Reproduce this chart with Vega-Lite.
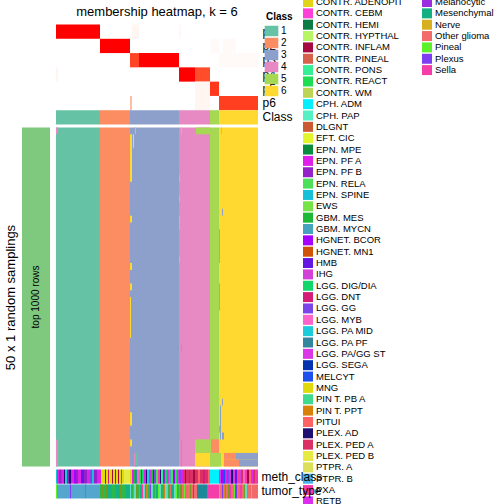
{
"$schema":"https://vega.github.io/schema/vega-lite/v6.json",
"padding":{"left":4,"top":-3.5,"right":0,"bottom":0},
"bounds":"flush",
"columns":2,
"spacing":{"row":3,"column":6},
"config":{"view":{"stroke":null},"font":"Liberation Sans","legend":{"symbolLimit":100}},
"resolve":{"scale":{"color":"independent"},"legend":{"color":"independent"}},
"concat":[
{"width":28,"height":100,"data":{"values":[]},"mark":"rect"},
{"width":202,"height":100,
 "title":{"text":"membership heatmap, k = 6","fontSize":13,"fontWeight":"normal","offset":6,"anchor":"middle","color":"#000"},
 "encoding":{
  "x":{"field":"c0","type":"quantitative","scale":{"domain":[0,202],"nice":false,"zero":false},"axis":null},
  "x2":{"field":"c1"},
  "y":{"field":"row","type":"nominal","scale":{"domain":["p1","p2","p3","p4","p5","p6","Class"],"paddingInner":0,"paddingOuter":0},
       "axis":{"orient":"right","title":null,"ticks":false,"domain":false,"labelFontSize":12,"labelPadding":4,"labelColor":"#000"}}},
 "layer":[
  {"data":{"values":[
   {"row":"p1","c0":0,"c1":44,"p":1},{"row":"p1","c0":76,"c1":83,"p":0.05},{"row":"p1","c0":123,"c1":125,"p":0.04},
   {"row":"p2","c0":44,"c1":74,"p":1},{"row":"p2","c0":155,"c1":163,"p":0.03},{"row":"p2","c0":167,"c1":180,"p":0.03},
   {"row":"p3","c0":74,"c1":83,"p":0.88},{"row":"p3","c0":83,"c1":123,"p":1},{"row":"p3","c0":163,"c1":202,"p":0.03},
   {"row":"p4","c0":0,"c1":2,"p":0.05},{"row":"p4","c0":123,"c1":139,"p":1},{"row":"p4","c0":139,"c1":154,"p":0.86},
   {"row":"p5","c0":139,"c1":154,"p":0.05},{"row":"p5","c0":154,"c1":163,"p":0.92},
   {"row":"p6","c0":74,"c1":76,"p":0.35},{"row":"p6","c0":139,"c1":154,"p":0.05},{"row":"p6","c0":163,"c1":202,"p":0.9}
  ]},
  "mark":"rect",
  "encoding":{"color":{"field":"p","type":"quantitative","scale":{"domain":[0,1],"range":["#ffffff","#ff0000"],"interpolate":"lab"},"legend":null}}},
  {"data":{"values":[
   {"row":"Class","c0":0,"c1":44,"class":"1"},{"row":"Class","c0":44,"c1":74,"class":"2"},{"row":"Class","c0":74,"c1":123,"class":"3"},
   {"row":"Class","c0":123,"c1":154,"class":"4"},{"row":"Class","c0":154,"c1":163,"class":"5"},{"row":"Class","c0":163,"c1":202,"class":"6"}
  ]},
  "mark":"rect",
  "encoding":{"color":{"field":"class","type":"nominal","scale":{"domain":["1","2","3","4","5","6"],"range":["#66C2A5","#FC8D62","#8DA0CB","#E78AC3","#A6D854","#FFD92F"]},"legend":null}}}
 ],
 "resolve":{"scale":{"color":"independent"}}
},
{"width":28,"height":339,
 "data":{"values":[{"slice":"top 1000 rows"}]},
 "encoding":{"y":{"field":"slice","type":"nominal","scale":{"paddingInner":0,"paddingOuter":0},
   "axis":{"title":"50 x 1 random samplings","labels":false,"ticks":false,"domain":false,"titleFontSize":13,"titleFontWeight":"normal","titlePadding":5,"titleColor":"#000"}}},
 "layer":[
  {"mark":{"type":"rect","color":"#7FC97F"},"encoding":{"x":{"datum":0,"type":"quantitative","scale":{"domain":[0,1],"nice":false,"zero":false},"axis":null},"x2":{"datum":1}}},
  {"mark":{"type":"text","angle":270,"fontSize":10,"color":"#000"},"encoding":{"x":{"datum":0.5,"type":"quantitative"},"text":{"field":"slice"}}}
 ]
},
{"width":202,"height":339,
 "data":{"values":[
  {"r0":0,"r1":50,"c0":0,"c1":44,"class":"1"},{"r0":0,"r1":50,"c0":44,"c1":74,"class":"2"},{"r0":0,"r1":50,"c0":74,"c1":123,"class":"3"},
  {"r0":0,"r1":50,"c0":123,"c1":154,"class":"4"},{"r0":0,"r1":50,"c0":154,"c1":163,"class":"5"},{"r0":0,"r1":50,"c0":163,"c1":202,"class":"6"},
  {"r0":0,"r1":1,"c0":0,"c1":2,"class":"4"},{"r0":0,"r1":1,"c0":79,"c1":80,"class":"5"},{"r0":0,"r1":1,"c0":125,"c1":126,"class":"5"},
  {"r0":0,"r1":1,"c0":140,"c1":154,"class":"5"},{"r0":0,"r1":1,"c0":165,"c1":166,"class":"5"},
  {"r0":1,"r1":3,"c0":77,"c1":78,"class":"6"},{"r0":1,"r1":8,"c0":74,"c1":76,"class":"6"},
  {"r0":7,"r1":8,"c0":123,"c1":124,"class":"5"},{"r0":10,"r1":11,"c0":123,"c1":124,"class":"5"},
  {"r0":12,"r1":13,"c0":166,"c1":167,"class":"3"},{"r0":13,"r1":14,"c0":74,"c1":76,"class":"6"},
  {"r0":13,"r1":15,"c0":123,"c1":124,"class":"5"},{"r0":15,"r1":20,"c0":163,"c1":164,"class":"2"},
  {"r0":19,"r1":20,"c0":123,"c1":124,"class":"5"},{"r0":20,"r1":21,"c0":74,"c1":76,"class":"6"},
  {"r0":23,"r1":24,"c0":74,"c1":76,"class":"6"},{"r0":23,"r1":27,"c0":163,"c1":164,"class":"2"},
  {"r0":25,"r1":31,"c0":74,"c1":75,"class":"6"},{"r0":32,"r1":33,"c0":125,"c1":126,"class":"3"},
  {"r0":40,"r1":41,"c0":166,"c1":167,"class":"3"},{"r0":41,"r1":46,"c0":164,"c1":165,"class":"3"},
  {"r0":42,"r1":44,"c0":74,"c1":76,"class":"6"},{"r0":44,"r1":45,"c0":163,"c1":164,"class":"2"},
  {"r0":45,"r1":46,"c0":123,"c1":124,"class":"1"},{"r0":45,"r1":46,"c0":166,"c1":168,"class":"3"},
  {"r0":46,"r1":48,"c0":139,"c1":155,"class":"5"},{"r0":46,"r1":48,"c0":155,"c1":163,"class":"2"},
  {"r0":46,"r1":47,"c0":74,"c1":76,"class":"6"},{"r0":46,"r1":50,"c0":0,"c1":2,"class":"4"},{"r0":46,"r1":50,"c0":125,"c1":126,"class":"3"},
  {"r0":48,"r1":50,"c0":139,"c1":154,"class":"6"},{"r0":48,"r1":50,"c0":154,"c1":165,"class":"5"},
  {"r0":48,"r1":50,"c0":78,"c1":79,"class":"4"},{"r0":48,"r1":50,"c0":79,"c1":82,"class":"1"},
  {"r0":48,"r1":49,"c0":168,"c1":180,"class":"2"},{"r0":48,"r1":49,"c0":180,"c1":202,"class":"3"},
  {"r0":49,"r1":50,"c0":168,"c1":183,"class":"2"},{"r0":49,"r1":50,"c0":183,"c1":202,"class":"3"}
 ]},
 "mark":"rect",
 "encoding":{
  "x":{"field":"c0","type":"quantitative","scale":{"domain":[0,202],"nice":false,"zero":false},"axis":null},
  "x2":{"field":"c1"},
  "y":{"field":"r0","type":"quantitative","scale":{"domain":[0,50],"reverse":true,"nice":false,"zero":false},"axis":null},
  "y2":{"field":"r1"},
  "color":{"field":"class","type":"nominal","scale":{"domain":["1","2","3","4","5","6"],"range":["#66C2A5","#FC8D62","#8DA0CB","#E78AC3","#A6D854","#FFD92F"]},
   "legend":{"title":"Class","orient":"none","legendX":210,"legendY":-115.5,"titleFontSize":10,"titleFontWeight":"bold","titlePadding":3.5,"titleColor":"#000",
    "labelFontSize":10,"labelColor":"#000","symbolType":"M-1.3,-1H1.3V1H-1.3Z","symbolSize":110,"symbolStrokeWidth":0,"symbolOpacity":1,"rowPadding":1,"labelOffset":4,"padding":0}}}
},
{"width":28,"height":29,"data":{"values":[]},"mark":"rect"},
{"width":202,"height":29,
 "encoding":{
  "x":{"field":"c0","type":"quantitative","scale":{"domain":[0,202],"nice":false,"zero":false},"axis":null},
  "x2":{"field":"c1"},
  "y":{"field":"row","type":"nominal","scale":{"domain":["meth_class","tumor_type"],"paddingInner":0.05,"paddingOuter":0},
       "axis":{"orient":"right","title":null,"ticks":false,"domain":false,"labelFontSize":12,"labelPadding":3,"labelColor":"#000"}}},
 "layer":[
  {"data":{"values":[
   {"row":"meth_class","c0":0,"c1":1,"meth_class":"EPN. SPINE"},{"row":"meth_class","c0":1,"c1":3,"meth_class":"EPN. PF A"},
   {"row":"meth_class","c0":3,"c1":5,"meth_class":"EPN. PF B"},{"row":"meth_class","c0":5,"c1":6,"meth_class":"LGG. GG"},
   {"row":"meth_class","c0":6,"c1":8,"meth_class":"EPN. PF A"},{"row":"meth_class","c0":8,"c1":9,"meth_class":"PLEX. AD"},
   {"row":"meth_class","c0":9,"c1":11,"meth_class":"LGG. PA MID"},{"row":"meth_class","c0":11,"c1":13,"meth_class":"EPN. PF B"},
   {"row":"meth_class","c0":13,"c1":15,"meth_class":"PLEX. AD"},{"row":"meth_class","c0":15,"c1":18,"meth_class":"EPN. PF A"},
   {"row":"meth_class","c0":18,"c1":20,"meth_class":"HGNET. BCOR"},{"row":"meth_class","c0":20,"c1":22,"meth_class":"EPN. PF B"},
   {"row":"meth_class","c0":22,"c1":25,"meth_class":"EPN. PF A"},{"row":"meth_class","c0":25,"c1":28,"meth_class":"HMB"},
   {"row":"meth_class","c0":28,"c1":31,"meth_class":"EPN. PF B"},{"row":"meth_class","c0":31,"c1":34,"meth_class":"EPN. PF A"},
   {"row":"meth_class","c0":34,"c1":36,"meth_class":"LGG. GG"},{"row":"meth_class","c0":36,"c1":38,"meth_class":"EPN. SPINE"},
   {"row":"meth_class","c0":38,"c1":41,"meth_class":"EPN. PF B"},{"row":"meth_class","c0":41,"c1":44,"meth_class":"EPN. PF A"},
   {"row":"meth_class","c0":44,"c1":45,"meth_class":"EPN. PF A"},{"row":"meth_class","c0":45,"c1":49,"meth_class":"MNG"},
   {"row":"meth_class","c0":49,"c1":50,"meth_class":"CONTR. INFLAM"},{"row":"meth_class","c0":50,"c1":52,"meth_class":"MNG"},
   {"row":"meth_class","c0":52,"c1":53,"meth_class":"LGG. DNT"},{"row":"meth_class","c0":53,"c1":56,"meth_class":"MNG"},
   {"row":"meth_class","c0":56,"c1":57,"meth_class":"CONTR. INFLAM"},{"row":"meth_class","c0":57,"c1":59,"meth_class":"MNG"},
   {"row":"meth_class","c0":59,"c1":60,"meth_class":"CONTR. INFLAM"},{"row":"meth_class","c0":60,"c1":62,"meth_class":"MNG"},
   {"row":"meth_class","c0":62,"c1":63,"meth_class":"CONTR. INFLAM"},{"row":"meth_class","c0":63,"c1":65,"meth_class":"MNG"},
   {"row":"meth_class","c0":65,"c1":66,"meth_class":"PLEX. PED A"},{"row":"meth_class","c0":66,"c1":68,"meth_class":"MNG"},
   {"row":"meth_class","c0":68,"c1":74,"meth_class":"PLEX. PED B"},
   {"row":"meth_class","c0":74,"c1":76,"meth_class":"CONTR. ADENOPIT"},{"row":"meth_class","c0":76,"c1":78,"meth_class":"EPN. PF A"},
   {"row":"meth_class","c0":78,"c1":79,"meth_class":"GBM. MES"},{"row":"meth_class","c0":79,"c1":81,"meth_class":"LGG. PA PF"},
   {"row":"meth_class","c0":81,"c1":83,"meth_class":"LGG. MYB"},{"row":"meth_class","c0":83,"c1":85,"meth_class":"CONTR. REACT"},
   {"row":"meth_class","c0":85,"c1":86,"meth_class":"HGNET. BCOR"},{"row":"meth_class","c0":86,"c1":88,"meth_class":"LGG. DIG/DIA"},
   {"row":"meth_class","c0":88,"c1":90,"meth_class":"EPN. PF A"},{"row":"meth_class","c0":90,"c1":91,"meth_class":"PLEX. AD"},
   {"row":"meth_class","c0":91,"c1":93,"meth_class":"LGG. PA MID"},{"row":"meth_class","c0":93,"c1":95,"meth_class":"RETB"},
   {"row":"meth_class","c0":95,"c1":97,"meth_class":"GBM. MES"},{"row":"meth_class","c0":97,"c1":98,"meth_class":"CONTR. INFLAM"},
   {"row":"meth_class","c0":98,"c1":100,"meth_class":"LGG. GG"},{"row":"meth_class","c0":100,"c1":102,"meth_class":"EPN. RELA"},
   {"row":"meth_class","c0":102,"c1":104,"meth_class":"PXA"},{"row":"meth_class","c0":104,"c1":105,"meth_class":"PLEX. AD"},
   {"row":"meth_class","c0":105,"c1":107,"meth_class":"CONTR. PONS"},{"row":"meth_class","c0":107,"c1":109,"meth_class":"EPN. PF B"},
   {"row":"meth_class","c0":109,"c1":111,"meth_class":"LGG. DIG/DIA"},{"row":"meth_class","c0":111,"c1":113,"meth_class":"IHG"},
   {"row":"meth_class","c0":113,"c1":115,"meth_class":"GBM. MYCN"},{"row":"meth_class","c0":115,"c1":117,"meth_class":"EPN. RELA"},
   {"row":"meth_class","c0":117,"c1":119,"meth_class":"HGNET. BCOR"},{"row":"meth_class","c0":119,"c1":121,"meth_class":"CONTR. REACT"},
   {"row":"meth_class","c0":121,"c1":123,"meth_class":"LGG. PA/GG ST"},
   {"row":"meth_class","c0":123,"c1":125,"meth_class":"LGG. GG"},{"row":"meth_class","c0":125,"c1":127,"meth_class":"EPN. PF A"},
   {"row":"meth_class","c0":127,"c1":129,"meth_class":"PLEX. PED A"},{"row":"meth_class","c0":129,"c1":130,"meth_class":"CONTR. INFLAM"},
   {"row":"meth_class","c0":130,"c1":133,"meth_class":"PLEX. PED A"},{"row":"meth_class","c0":133,"c1":134,"meth_class":"LGG. DNT"},
   {"row":"meth_class","c0":134,"c1":137,"meth_class":"PLEX. PED A"},{"row":"meth_class","c0":137,"c1":139,"meth_class":"CONTR. INFLAM"},
   {"row":"meth_class","c0":139,"c1":142,"meth_class":"PLEX. PED A"},{"row":"meth_class","c0":142,"c1":144,"meth_class":"PITUI"},
   {"row":"meth_class","c0":144,"c1":147,"meth_class":"PLEX. PED A"},{"row":"meth_class","c0":147,"c1":149,"meth_class":"LGG. DNT"},
   {"row":"meth_class","c0":149,"c1":152,"meth_class":"PLEX. PED A"},{"row":"meth_class","c0":152,"c1":154,"meth_class":"PITUI"},
   {"row":"meth_class","c0":154,"c1":163,"meth_class":"CPH. ADM"},
   {"row":"meth_class","c0":163,"c1":165,"meth_class":"LGG. PA/GG ST"},{"row":"meth_class","c0":165,"c1":167,"meth_class":"HGNET. BCOR"},
   {"row":"meth_class","c0":167,"c1":169,"meth_class":"MELCYT"},{"row":"meth_class","c0":169,"c1":171,"meth_class":"EPN. PF A"},
   {"row":"meth_class","c0":171,"c1":173,"meth_class":"LGG. GG"},{"row":"meth_class","c0":173,"c1":175,"meth_class":"RETB"},
   {"row":"meth_class","c0":175,"c1":177,"meth_class":"PLEX. AD"},{"row":"meth_class","c0":177,"c1":179,"meth_class":"LGG. PA/GG ST"},
   {"row":"meth_class","c0":179,"c1":181,"meth_class":"HMB"},{"row":"meth_class","c0":181,"c1":183,"meth_class":"PXA"},
   {"row":"meth_class","c0":183,"c1":185,"meth_class":"IHG"},{"row":"meth_class","c0":185,"c1":187,"meth_class":"PLEX. PED A"},
   {"row":"meth_class","c0":187,"c1":189,"meth_class":"LGG. MYB"},{"row":"meth_class","c0":189,"c1":191,"meth_class":"PXA"},
   {"row":"meth_class","c0":191,"c1":193,"meth_class":"CONTR. INFLAM"},{"row":"meth_class","c0":193,"c1":195,"meth_class":"PITUI"},
   {"row":"meth_class","c0":195,"c1":197,"meth_class":"RETB"},{"row":"meth_class","c0":197,"c1":199,"meth_class":"PLEX. PED A"},
   {"row":"meth_class","c0":199,"c1":201,"meth_class":"PXA"},{"row":"meth_class","c0":201,"c1":202,"meth_class":"LGG. PA/GG ST"}
  ]},
  "mark":"rect",
  "encoding":{"color":{"field":"meth_class","type":"nominal",
   "scale":{"domain":["CONTR. ADENOPIT","CONTR. CEBM","CONTR. HEMI","CONTR. HYPTHAL","CONTR. INFLAM","CONTR. PINEAL","CONTR. PONS","CONTR. REACT","CONTR. WM","CPH. ADM","CPH. PAP","DLGNT","EFT. CIC","EPN. MPE","EPN. PF A","EPN. PF B","EPN. RELA","EPN. SPINE","EWS","GBM. MES","GBM. MYCN","HGNET. BCOR","HGNET. MN1","HMB","IHG","LGG. DIG/DIA","LGG. DNT","LGG. GG","LGG. MYB","LGG. PA MID","LGG. PA PF","LGG. PA/GG ST","LGG. SEGA","MELCYT","MNG","PIN T. PB A","PIN T. PPT","PITUI","PLEX. AD","PLEX. PED A","PLEX. PED B","PTPR. A","PTPR. B","PXA","RETB"],
    "range":["#E2D31B","#FF40D8","#0B7A45","#B8F565","#A50A42","#D6604A","#35EE95","#1FDC55","#BDD456","#00F0FF","#55F0C3","#CB5A32","#E2F52A","#0A8C3E","#E020E8","#9422C8","#4CDF5A","#16C0D8","#76E448","#1CB838","#45A3BF","#A602FF","#D05406","#6218E0","#D342D8","#10D66C","#D51C78","#7A46EA","#FB64C8","#1CCCDA","#34869E","#DA38E6","#0634B0","#1E50EE","#E0DA0C","#40DA8E","#D88008","#FF6262","#1E1070","#DA3066","#E8EA44","#DCE058","#4AB0EE","#FA38A8","#DA2EEC"]},
   "legend":{"title":null,"orient":"none","legendX":247,"legendY":-472.5,"symbolType":"square","symbolSize":100,"symbolStrokeWidth":0,"symbolOpacity":1,
    "labelFontSize":9.5,"labelColor":"#000","rowPadding":1.35,"labelOffset":3,"padding":0,"symbolLimit":100}}}},
  {"data":{"values":[
   {"row":"tumor_type","c0":0,"c1":1,"tumor_type":"Pineal"},{"row":"tumor_type","c0":1,"c1":14,"tumor_type":"Ependymal"},
   {"row":"tumor_type","c0":14,"c1":15,"tumor_type":"Plexus"},{"row":"tumor_type","c0":15,"c1":29,"tumor_type":"Ependymal"},
   {"row":"tumor_type","c0":29,"c1":30,"tumor_type":"Control"},{"row":"tumor_type","c0":30,"c1":44,"tumor_type":"Ependymal"},
   {"row":"tumor_type","c0":44,"c1":46,"tumor_type":"Glioma IDH"},{"row":"tumor_type","c0":46,"c1":47,"tumor_type":"Control"},
   {"row":"tumor_type","c0":47,"c1":50,"tumor_type":"Glioma IDH"},{"row":"tumor_type","c0":50,"c1":51,"tumor_type":"Control"},
   {"row":"tumor_type","c0":51,"c1":55,"tumor_type":"Mesenchymal"},{"row":"tumor_type","c0":55,"c1":56,"tumor_type":"Control"},
   {"row":"tumor_type","c0":56,"c1":59,"tumor_type":"Glioma IDH"},{"row":"tumor_type","c0":59,"c1":60,"tumor_type":"Control"},
   {"row":"tumor_type","c0":60,"c1":64,"tumor_type":"Mesenchymal"},{"row":"tumor_type","c0":64,"c1":65,"tumor_type":"Control"},
   {"row":"tumor_type","c0":65,"c1":69,"tumor_type":"Glioma IDH"},{"row":"tumor_type","c0":69,"c1":70,"tumor_type":"Control"},
   {"row":"tumor_type","c0":70,"c1":74,"tumor_type":"Mesenchymal"},
   {"row":"tumor_type","c0":74,"c1":75,"tumor_type":"Glio-neuronal"},{"row":"tumor_type","c0":75,"c1":77,"tumor_type":"Glioma IDH"},
   {"row":"tumor_type","c0":77,"c1":78,"tumor_type":"Embryonal"},{"row":"tumor_type","c0":78,"c1":80,"tumor_type":"Glio-neuronal"},
   {"row":"tumor_type","c0":80,"c1":81,"tumor_type":"Control"},{"row":"tumor_type","c0":81,"c1":83,"tumor_type":"Glioma IDH"},
   {"row":"tumor_type","c0":83,"c1":84,"tumor_type":"Embryonal"},{"row":"tumor_type","c0":84,"c1":86,"tumor_type":"Mesenchymal"},
   {"row":"tumor_type","c0":86,"c1":87,"tumor_type":"Sella"},{"row":"tumor_type","c0":87,"c1":89,"tumor_type":"Glio-neuronal"},
   {"row":"tumor_type","c0":89,"c1":90,"tumor_type":"Control"},{"row":"tumor_type","c0":90,"c1":92,"tumor_type":"Embryonal"},
   {"row":"tumor_type","c0":92,"c1":94,"tumor_type":"Glioma IDH"},{"row":"tumor_type","c0":94,"c1":95,"tumor_type":"Plexus"},
   {"row":"tumor_type","c0":95,"c1":97,"tumor_type":"Glio-neuronal"},{"row":"tumor_type","c0":97,"c1":99,"tumor_type":"Glioma IDH"},
   {"row":"tumor_type","c0":99,"c1":100,"tumor_type":"Other glioma"},{"row":"tumor_type","c0":100,"c1":102,"tumor_type":"Mesenchymal"},
   {"row":"tumor_type","c0":102,"c1":103,"tumor_type":"Pineal"},{"row":"tumor_type","c0":103,"c1":105,"tumor_type":"Glio-neuronal"},
   {"row":"tumor_type","c0":105,"c1":106,"tumor_type":"Control"},{"row":"tumor_type","c0":106,"c1":108,"tumor_type":"Glioma IDH"},
   {"row":"tumor_type","c0":108,"c1":109,"tumor_type":"Embryonal"},{"row":"tumor_type","c0":109,"c1":111,"tumor_type":"Glio-neuronal"},
   {"row":"tumor_type","c0":111,"c1":112,"tumor_type":"Pineal"},{"row":"tumor_type","c0":112,"c1":114,"tumor_type":"Glioma IDH"},
   {"row":"tumor_type","c0":114,"c1":115,"tumor_type":"Other glioma"},{"row":"tumor_type","c0":115,"c1":117,"tumor_type":"Mesenchymal"},
   {"row":"tumor_type","c0":117,"c1":118,"tumor_type":"Control"},{"row":"tumor_type","c0":118,"c1":120,"tumor_type":"Glio-neuronal"},
   {"row":"tumor_type","c0":120,"c1":121,"tumor_type":"Pineal"},{"row":"tumor_type","c0":121,"c1":123,"tumor_type":"Glioma IDH"},
   {"row":"tumor_type","c0":123,"c1":124,"tumor_type":"Other glioma"},{"row":"tumor_type","c0":124,"c1":126,"tumor_type":"Control"},
   {"row":"tumor_type","c0":126,"c1":128,"tumor_type":"Other glioma"},{"row":"tumor_type","c0":128,"c1":129,"tumor_type":"Pineal"},
   {"row":"tumor_type","c0":129,"c1":131,"tumor_type":"Other glioma"},{"row":"tumor_type","c0":131,"c1":132,"tumor_type":"Embryonal"},
   {"row":"tumor_type","c0":132,"c1":134,"tumor_type":"Other glioma"},{"row":"tumor_type","c0":134,"c1":135,"tumor_type":"Control"},
   {"row":"tumor_type","c0":135,"c1":137,"tumor_type":"Other glioma"},{"row":"tumor_type","c0":137,"c1":138,"tumor_type":"Plexus"},
   {"row":"tumor_type","c0":138,"c1":141,"tumor_type":"Other glioma"},{"row":"tumor_type","c0":141,"c1":151,"tumor_type":"Glioblastoma"},
   {"row":"tumor_type","c0":151,"c1":154,"tumor_type":"Sella"},{"row":"tumor_type","c0":154,"c1":163,"tumor_type":"Sella"},
   {"row":"tumor_type","c0":163,"c1":164,"tumor_type":"Pineal"},{"row":"tumor_type","c0":164,"c1":166,"tumor_type":"Other glioma"},
   {"row":"tumor_type","c0":166,"c1":167,"tumor_type":"Plexus"},{"row":"tumor_type","c0":167,"c1":169,"tumor_type":"Embryonal"},
   {"row":"tumor_type","c0":169,"c1":170,"tumor_type":"Glioma IDH"},{"row":"tumor_type","c0":170,"c1":172,"tumor_type":"Other glioma"},
   {"row":"tumor_type","c0":172,"c1":173,"tumor_type":"Control"},{"row":"tumor_type","c0":173,"c1":175,"tumor_type":"Sella"},
   {"row":"tumor_type","c0":175,"c1":176,"tumor_type":"Embryonal"},{"row":"tumor_type","c0":176,"c1":178,"tumor_type":"Other glioma"},
   {"row":"tumor_type","c0":178,"c1":179,"tumor_type":"Pineal"},{"row":"tumor_type","c0":179,"c1":181,"tumor_type":"Plexus"},
   {"row":"tumor_type","c0":181,"c1":183,"tumor_type":"Other glioma"},{"row":"tumor_type","c0":183,"c1":184,"tumor_type":"Embryonal"},
   {"row":"tumor_type","c0":184,"c1":186,"tumor_type":"Sella"},{"row":"tumor_type","c0":186,"c1":188,"tumor_type":"Other glioma"},
   {"row":"tumor_type","c0":188,"c1":189,"tumor_type":"Control"},{"row":"tumor_type","c0":189,"c1":191,"tumor_type":"Glio-neuronal"},
   {"row":"tumor_type","c0":191,"c1":192,"tumor_type":"Embryonal"},{"row":"tumor_type","c0":192,"c1":195,"tumor_type":"Other glioma"},
   {"row":"tumor_type","c0":195,"c1":196,"tumor_type":"Nerve"},{"row":"tumor_type","c0":196,"c1":202,"tumor_type":"Other glioma"}
  ]},
  "mark":"rect",
  "encoding":{"color":{"field":"tumor_type","type":"nominal",
   "scale":{"domain":["Control","Embryonal","Ependymal","Glio-neuronal","Glioblastoma","Glioma IDH","Melanocytic","Mesenchymal","Nerve","Other glioma","Pineal","Plexus","Sella"],
    "range":["#6E9A1E","#D4841E","#55A6CE","#62DCC6","#1C8899","#2DB84C","#9B2EE0","#14B084","#D6B01E","#F26A6A","#5CF02C","#7E3CF4","#F53DAA"]},
   "legend":{"title":null,"orient":"none","legendX":366,"legendY":-472.5,"values":["Melanocytic","Mesenchymal","Nerve","Other glioma","Pineal","Plexus","Sella"],
    "symbolType":"square","symbolSize":100,"symbolStrokeWidth":0,"symbolOpacity":1,
    "labelFontSize":9.5,"labelColor":"#000","rowPadding":1.35,"labelOffset":3,"padding":0}}}}
 ],
 "resolve":{"scale":{"color":"independent"}}
}
]
}
